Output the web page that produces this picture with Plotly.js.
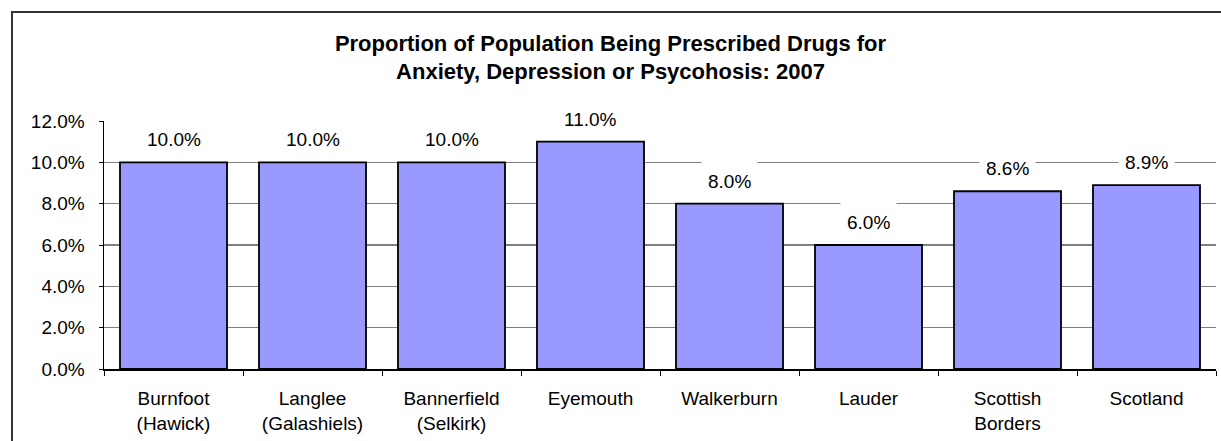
<!DOCTYPE html>
<html>
<head>
<meta charset="utf-8">
<script src="https://cdn.plot.ly/plotly-3.0.1.min.js"></script>
<style>
  html, body { margin: 0; padding: 0; background: #fff; }
  #wrap { position: relative; width: 1221px; height: 441px; overflow: hidden; }
  #chart { width: 1221px; height: 441px; }
  #frame {
    position: absolute; left: 11px; top: 11px; width: 1300px; height: 500px;
    border-left: 2px solid #333; border-top: 2px solid #333;
    pointer-events: none; box-sizing: border-box;
  }
</style>
</head>
<body>
<div id="wrap">
  <div id="chart"></div>
  <div id="frame"></div>
</div>
<script>
// Areas compared, with their share of the population on prescriptions (%)
const areas = [
  "Burnfoot<br>(Hawick)",
  "Langlee<br>(Galashiels)",
  "Bannerfield<br>(Selkirk)",
  "Eyemouth",
  "Walkerburn",
  "Lauder",
  "Scottish<br>Borders",
  "Scotland"
];
const prescribedPct = [10.0, 10.0, 10.0, 11.0, 8.0, 6.0, 8.6, 8.9];
const yTicks = [0, 2, 4, 6, 8, 10, 12];

const FONT = "Liberation Sans, Arial, sans-serif";

const bars = {
  type: "bar",
  x: areas,
  y: prescribedPct,
  marker: { color: "#9999FF", line: { color: "#000000", width: 1.8 } },
  hoverinfo: "x+y"
};

// Value labels sit on white boxes that mask the gridlines behind them
const labels = areas.map((a, i) => ({
  x: a,
  y: prescribedPct[i],
  xref: "x",
  yref: "y",
  text: prescribedPct[i].toFixed(1) + "%",
  showarrow: false,
  yanchor: "bottom",
  yshift: 2,
  bgcolor: "#ffffff",
  borderpad: 6,
  height: 28,
  valign: "middle",
  font: { family: FONT, size: 19, color: "#000" }
}));

const layout = {
  width: 1221,
  height: 441,
  margin: { l: 104, r: 5, t: 121, b: 72, pad: 0 },
  paper_bgcolor: "#ffffff",
  plot_bgcolor: "#ffffff",
  font: { family: FONT, size: 19, color: "#000" },
  showlegend: false,
  bargap: 0.23,
  title: {
    text: "<b>Proportion of Population Being Prescribed Drugs for<br>Anxiety, Depression or Psycohosis: 2007</b>",
    font: { family: FONT, size: 22, color: "#000" },
    x: 0.5,
    xanchor: "center",
    xref: "container",
    y: 0.885,
    yref: "container",
    yanchor: "top"
  },
  xaxis: {
    type: "category",
    showgrid: false,
    showline: true,
    linecolor: "#000",
    linewidth: 1.5,
    ticks: "outside",
    tickson: "boundaries",
    ticklen: 5,
    tickcolor: "#000",
    tickwidth: 1,
    ticklabelstandoff: 12,
    tickfont: { family: FONT, size: 19, color: "#000" },
    fixedrange: true
  },
  yaxis: {
    range: [0, 12],
    tickvals: yTicks,
    ticktext: yTicks.map(v => v.toFixed(1) + "%"),
    showgrid: true,
    gridcolor: "#808080",
    gridwidth: 1.2,
    showline: true,
    linecolor: "#000",
    linewidth: 1.5,
    ticks: "outside",
    ticklen: 4,
    tickcolor: "#000",
    tickwidth: 1,
    ticklabelstandoff: 10,
    zeroline: false,
    tickfont: { family: FONT, size: 19, color: "#000" },
    fixedrange: true
  },
  annotations: labels
};

Plotly.newPlot("chart", [bars], layout, { displayModeBar: false, staticPlot: true });
</script>
</body>
</html>
